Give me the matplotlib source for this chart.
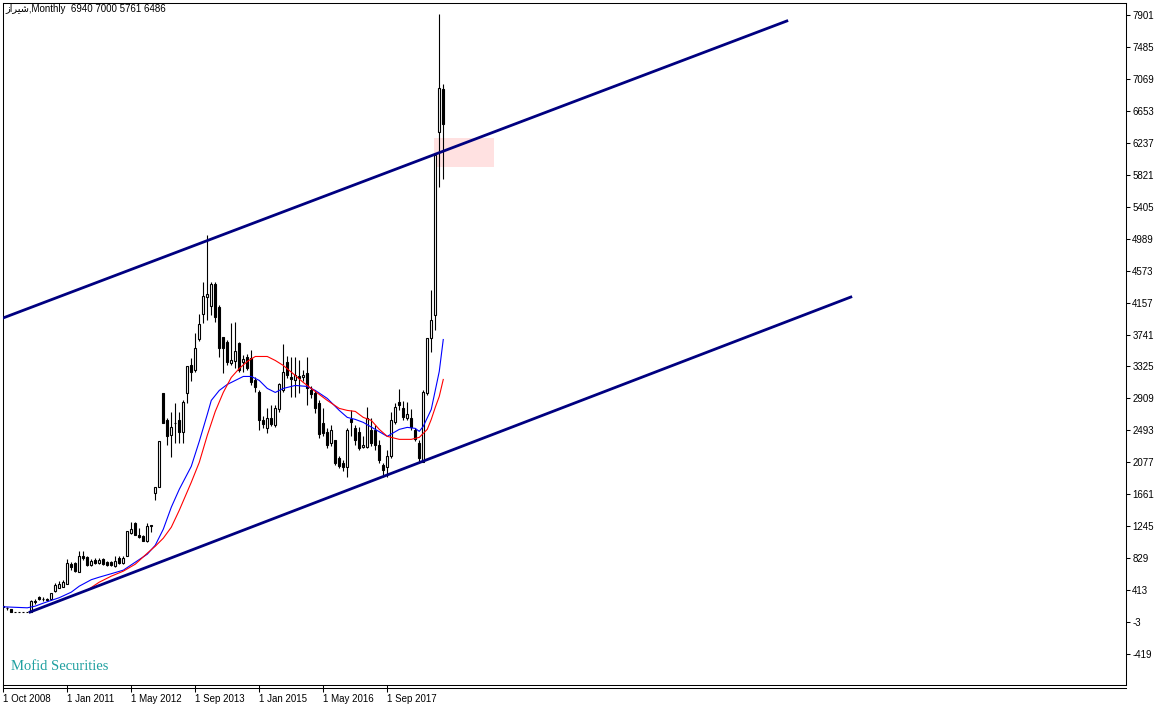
import matplotlib
matplotlib.use('Agg')
import matplotlib.pyplot as plt
from matplotlib.patches import Rectangle
from matplotlib.lines import Line2D

# Dane miesięczne (OHLC)
opens = [206, 180, 167, 128, 128, 128, 128, 128, 258, 323,
         297, 297, 297, 401, 440, 453, 492, 753, 766, 649,
         857, 844, 740, 805, 766, 818, 779, 775, 727, 831,
         766, 857, 1156, 1287, 1130, 1117, 1052, 1248, 1677, 1755,
         2979, 2628, 2432, 2589, 2628, 2471, 2979, 3344, 3279, 3682,
         4008, 4229, 4112, 4398, 4099, 3708, 3643, 3370, 3396, 3630,
         3383, 3448, 3435, 3148, 2992, 2628, 2524, 2654, 2563, 2771,
         3018, 3383, 3187, 3148, 3200, 3187, 3240, 3018, 2979, 2849,
         2589, 2471, 2328, 2367, 2133, 2068, 2016, 2641, 2524, 2471,
         2276, 2276, 2497, 2497, 2302, 2042, 2016, 2159, 2602, 2862,
         2784, 2654, 2654, 2497, 2328, 2081, 2979, 3695, 3995, 6377,
         6940]
highs = [219, 193, 167, 128, 128, 128, 128, 284, 297, 336,
         323, 310, 375, 505, 531, 544, 818, 779, 779, 922,
         922, 857, 818, 831, 831, 831, 792, 790, 857, 857,
         857, 1182, 1300, 1300, 1221, 1130, 1287, 1261, 1755, 2354,
         2979, 2654, 2732, 2849, 2732, 2888, 3331, 3435, 3760, 4008,
         4424, 5036, 4424, 4424, 4125, 3708, 3669, 3891, 3904, 3643,
         3474, 3487, 3539, 3187, 3018, 2680, 2784, 2823, 2823, 3109,
         3617, 3461, 3448, 3448, 3409, 3279, 3448, 3070, 3018, 2888,
         2784, 2524, 2563, 2367, 2159, 2107, 2524, 2758, 2563, 2537,
         2419, 2797, 2654, 2563, 2367, 2068, 2237, 2732, 2849, 3031,
         2875, 2862, 2771, 2524, 2367, 3018, 3695, 4320, 6078, 7914,
         7000]
lows = [180, 154, 128, 128, 128, 128, 128, 128, 232, 284,
        271, 271, 284, 388, 440, 453, 492, 675, 649, 649,
        805, 727, 727, 753, 753, 740, 727, 725, 714, 753,
        753, 857, 1143, 1130, 1091, 1052, 1039, 1169, 1586, 1755,
        2589, 2302, 2146, 2328, 2328, 2328, 2849, 3136, 3253, 3656,
        3891, 3930, 3995, 3904, 3448, 3240, 3344, 3344, 3305, 3253,
        3253, 3279, 3083, 2992, 2497, 2524, 2458, 2550, 2537, 2732,
        2992, 3174, 2927, 2927, 2979, 3136, 2823, 2914, 2719, 2393,
        2419, 2263, 2289, 2042, 2003, 1964, 1885, 2419, 2302, 2237,
        2263, 2263, 2289, 2237, 2068, 1885, 1885, 2133, 2576, 2758,
        2628, 2628, 2497, 2354, 2081, 2081, 2953, 3513, 3800, 5661,
        5761]
closes = [193, 180, 128, 128, 128, 128, 128, 271, 271, 297,
          297, 284, 375, 479, 492, 518, 766, 714, 662, 857,
          831, 740, 792, 766, 805, 753, 740, 745, 792, 766,
          831, 1182, 1208, 1130, 1104, 1052, 1248, 1261, 1755, 2354,
          2589, 2419, 2537, 2595, 2471, 2862, 3331, 3253, 3565, 3878,
          4242, 4268, 4398, 3969, 3565, 3565, 3383, 3409, 3526, 3279,
          3422, 3305, 3122, 3057, 2628, 2576, 2654, 2576, 2784, 3096,
          3253, 3214, 3161, 3214, 3174, 3214, 3044, 2966, 2784, 2445,
          2458, 2302, 2497, 2068, 2029, 2016, 2497, 2602, 2367, 2263,
          2302, 2654, 2328, 2302, 2107, 1977, 2159, 2628, 2797, 2823,
          2667, 2706, 2537, 2380, 2133, 2992, 3695, 3930, 6078, 6950,
          6486]

# Średnie kroczące (numer świecy, wartość)
blue_ma_bars = [0, 6, 8, 10, 14, 17, 19, 22, 24, 27, 30, 33, 36, 38, 40, 42, 44,
                47, 49, 51, 52, 54, 56, 58, 60, 62, 64, 66, 68, 70, 73, 76, 78,
                81, 84, 86, 88, 90, 93, 96, 99, 101, 103, 104, 105, 107, 109, 110]
blue_ma = [196, 183, 205, 244, 315, 387, 465, 549, 582, 627, 673, 777, 881, 998, 1206, 1492, 1726,
           2025, 2350, 2701, 2883, 3013, 3091, 3143, 3195, 3195, 3143, 3039, 2987, 3039, 3078, 3065, 3013,
           2909, 2753, 2662, 2636, 2597, 2506, 2415, 2506, 2532, 2519, 2480, 2545, 2766, 3260, 3676]
red_ma_bars = [21, 24, 27, 30, 33, 36, 38, 40, 42, 44, 47, 49, 51, 53, 55, 57, 59,
               61, 63, 66, 68, 70, 73, 75, 78, 81, 84, 86, 88, 90, 92, 94, 96,
               99, 102, 104, 106, 107, 108, 109, 110]
red_ma = [413, 517, 595, 660, 751, 894, 985, 1089, 1232, 1453, 1817, 2077, 2428, 2740, 2987, 3182, 3299,
          3390, 3455, 3455, 3403, 3338, 3208, 3117, 3000, 2883, 2779, 2753, 2740, 2662, 2623, 2506, 2415,
          2376, 2376, 2402, 2506, 2636, 2792, 2935, 3156]

# Kanał (punkty zaczepienia: numer świecy, cena)
upper_bars = [-0.075, 195.9]
upper_vals = [3956, 7823]
lower_bars = [6.7, 211.9]
lower_vals = [128, 4229]

# Strefa zaznaczona na różowo
zone_bars = [107.7, 122.7]
zone_vals = [5925, 6302]

y_ticks = [7901, 7485, 7069, 6653, 6237, 5821, 5405, 4989, 4573, 4157, 3741,
           3325, 2909, 2493, 2077, 1661, 1245, 829, 413, -3, -419]
date_ticks = [0, 16, 32, 48, 64, 80, 96]
date_labels = ['1 Oct 2008', '1 Jan 2011', '1 May 2012', '1 Sep 2013',
               '1 Jan 2015', '1 May 2016', '1 Sep 2017']

plt.rcParams['font.family'] = ['Liberation Sans', 'DejaVu Sans']

W, H = 1169, 709
fig = plt.figure(figsize=(W / 100, H / 100), dpi=100)
ax = fig.add_axes([3 / W, (H - 685) / H, (1126 - 3) / W, (685 - 3) / H])
ax.set_xlim(-0.075, 280.7)
ax.set_ylim(-822, 8057)

# Świece
for i in range(len(opens)):
    o, h, l, c = opens[i], highs[i], lows[i], closes[i]
    ax.vlines(i, l, h, color='black', lw=0.8, zorder=3)
    face = 'white' if c > o else 'black'
    ax.add_patch(Rectangle((i - 0.25, min(o, c)), 0.5, abs(c - o),
                           facecolor=face, edgecolor='black', lw=0.8, zorder=4))

ax.plot(blue_ma_bars, blue_ma, color='#0000ff', lw=0.8, zorder=5)
ax.plot(red_ma_bars, red_ma, color='#ff0000', lw=0.8, zorder=5)

ax.plot(upper_bars, upper_vals, color='#000080', lw=2.0, zorder=6)
ax.plot(lower_bars, lower_vals, color='#000080', lw=2.0, zorder=6)

ax.add_patch(Rectangle((zone_bars[0], zone_vals[0]), zone_bars[1] - zone_bars[0],
                       zone_vals[1] - zone_vals[0], facecolor='#ffe1e1',
                       edgecolor='none', zorder=1))

# Osie
for s in ax.spines.values():
    s.set_linewidth(0.75)
    s.set_color('black')
ax.yaxis.tick_right()
ax.set_yticks(y_ticks)
ax.set_yticklabels([str(v) for v in y_ticks])
ax.tick_params(axis='y', direction='out', length=3, width=0.75, labelsize=7, pad=1.5)
ax.set_xticks(date_ticks)
ax.set_xticklabels(date_labels, ha='left')
ax.tick_params(axis='x', direction='out', length=5, width=0.75, labelsize=7, pad=1.5)

fig.add_artist(Line2D([3 / W, 1126 / W], [1 - 687.5 / H] * 2, color='black', lw=0.75))

fig.text(5 / W, 1 - 9 / H, '\ufeaf\ufe8d\ufeae\ufbff\ufeb7,Monthly  6940 7000 5761 6486',
         fontsize=7, va='center')
fig.text(11 / W, 1 - 666 / H, 'Mofid Securities', color='#20a0a0', fontsize=10.5,
         va='center', family='Liberation Serif')

fig.savefig('out.png', dpi=100)
